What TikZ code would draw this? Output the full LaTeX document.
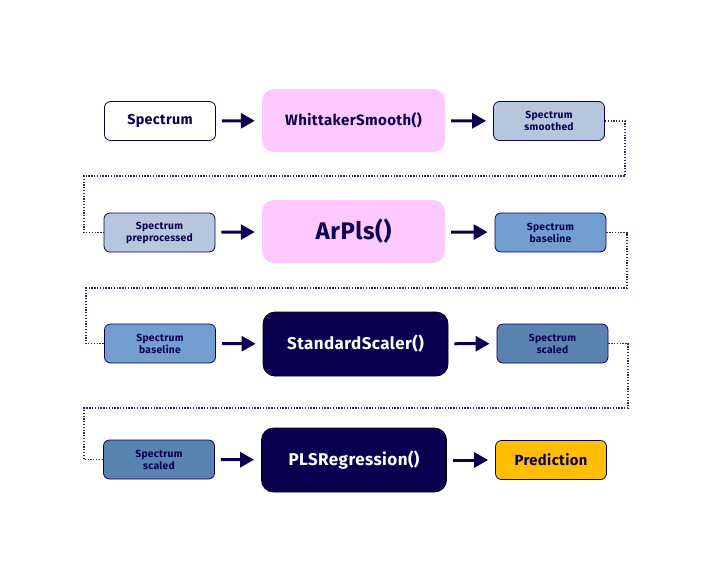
\documentclass[tikz,border=0pt]{standalone}
\usepackage{fontspec}
\setmainfont[LetterSpace=2.5]{Fira Sans}
\usetikzlibrary{positioning, arrows.meta}
\definecolor{navy}{HTML}{0A0050}
\definecolor{pinkbox}{HTML}{FFC8FF}
\definecolor{paleblue}{HTML}{B4C7DC}
\definecolor{midblue}{HTML}{729FCF}
\definecolor{deepblue}{HTML}{5983B0}
\definecolor{gold}{HTML}{FFBF00}
\tikzset{datanode/.style={draw=navy, thick, rounded corners=6pt, minimum width=111pt, minimum height=39pt, inner sep=0pt, align=center, text=navy, font=\bfseries\fontsize{10.3}{12}\selectfont},
         funcnode/.style={fill=pinkbox, rounded corners=12pt, minimum width=183pt, minimum height=63pt, inner sep=0pt, text=navy, font=\bfseries\fontsize{15}{18}\selectfont},
         darkfunc/.style={funcnode, draw=black, thick, fill=navy, text=white, minimum width=185pt, minimum height=64pt, font=\bfseries\fontsize{17}{20}\selectfont},
         flow/.style={navy, line width=3pt, -{Triangle[length=14pt, width=15pt]}, shorten <=6pt, shorten >=7pt},
         link/.style={navy!85, line width=1.4pt, dash pattern=on 1.3pt off 1.5pt},
        }

\begin{document}
\begin{tikzpicture}[x=1pt, y=-1pt]
        \useasboundingbox (0,0) rectangle (720,576);
        % row 1
        \node[datanode, fill=white, font=\bfseries\fontsize{14.3}{16}\selectfont](spec)at(160,121){Spectrum};
        \node[funcnode](whit)at(353.5,120.5){WhittakerSmooth()};
        \node[datanode, fill=paleblue](smooth)at(549,121){Spectrum\\smoothed};
        % row 2
        \node[datanode, fill=paleblue](prep)at(159.5,232.5){Spectrum\\preprocessed};
        \node[funcnode, font=\bfseries\fontsize{24}{28}\selectfont](arpls)at(353.5,231.5){ArPls()};
        \node[datanode, fill=midblue](base)at(550.5,232.5){Spectrum\\baseline};
        % row 3
        \node[datanode, fill=midblue](basein)at(160,343.5){Spectrum\\baseline};
        \node[darkfunc](scaler)at(355.5,344){StandardScaler()};
        \node[datanode, fill=deepblue](scaled)at(552.5,343.5){Spectrum\\scaled};
        % row 4
        \node[datanode, fill=deepblue](scaledin)at(159,459.5){Spectrum\\scaled};
        \node[darkfunc](pls)at(354,460){PLSRegression()};
        \node[datanode, fill=gold, font=\bfseries\fontsize{14.8}{17}\selectfont](pred)at(551,460){Prediction};
        \draw[flow](spec)--(whit);
        \draw[flow](whit)--(smooth);
        \draw[flow](prep)--(arpls);
        \draw[flow](arpls)--(base);
        \draw[flow](basein)--(scaler);
        \draw[flow](scaler)--(scaled);
        \draw[flow](scaledin)--(pls);
        \draw[flow](pls)--(pred);
        \draw[link](smooth.east)-|(625,176)-|(84,0|-prep.west)--(prep.west);
        \draw[link](base.east)-|(627,288)-|(86,0|-basein.west)--(basein.west);
        \draw[link](scaled.east)-|(628,408)-|(84,0|-scaledin.west)--(scaledin.west);
    \end{tikzpicture}
\end{document}
